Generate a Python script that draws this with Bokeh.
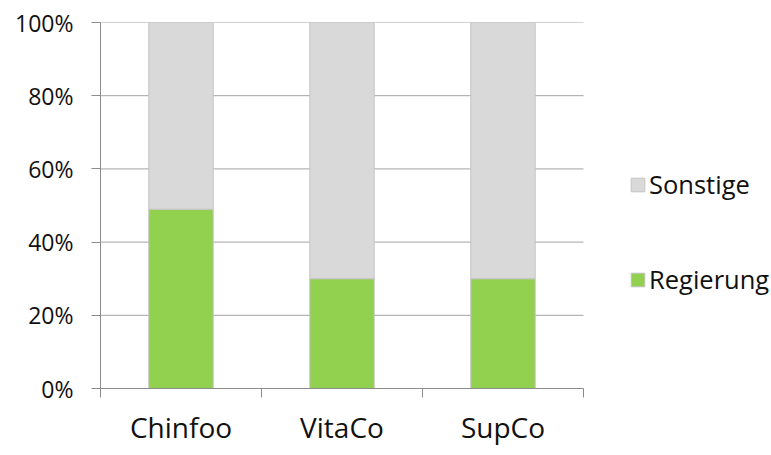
from bokeh.plotting import figure
from bokeh.models import ColumnDataSource, FixedTicker, Legend, LegendItem, NumeralTickFormatter, Range1d
from bokeh.embed import file_html
from bokeh.resources import INLINE

companies = ["Chinfoo", "VitaCo", "SupCo"]
regierung = [0.49, 0.30, 0.30]
sonstige = [0.51, 0.70, 0.70]
y_ticks = [0, 0.2, 0.4, 0.6, 0.8, 1.0]

FONT = "Open Sans"
n = len(companies)
x_pos = [i + 0.5 for i in range(n)]
source = ColumnDataSource(dict(x=x_pos, Regierung=regierung, Sonstige=sonstige))

# frame spans from the y axis to the right edge so the legend can sit inside it;
# the category area occupies 483 of the 671 frame pixels
x_end = n * 671 / 483

p = figure(width=771, height=455, output_backend="svg", toolbar_location=None,
           x_range=Range1d(0, x_end), y_range=Range1d(0, 1),
           min_border_left=100, min_border_right=0, min_border_top=22, min_border_bottom=67)
p.outline_line_color = None
p.background_fill_color = "white"
p.border_fill_color = "white"

# horizontal grid lines limited to the category area
grid_src = ColumnDataSource(dict(y=y_ticks, x0=[0] * len(y_ticks), x1=[n] * len(y_ticks)))
p.segment(x0="x0", x1="x1", y0="y", y1="y", source=grid_src, line_color="#a3a3a3", line_width=1)

renderers = p.vbar_stack(["Regierung", "Sonstige"], x="x", width=0.4, source=source,
                         color=["#92d050", "#d9d9d9"], line_color="#c4c4c4", line_width=1)

# x axis
xa = p.xaxis[0]
xa.bounds = (0, n)
xa.ticker = FixedTicker(ticks=x_pos, minor_ticks=list(range(n + 1)))
xa.major_label_overrides = {x: c for x, c in zip(x_pos, companies)}
xa.major_tick_out = 0
xa.major_tick_in = 0
xa.minor_tick_out = 9
xa.minor_tick_in = 0
xa.minor_tick_line_color = "#8c8c8c"
xa.axis_line_color = "#8c8c8c"
xa.major_label_text_font = FONT
xa.major_label_text_font_size = "28px"
xa.major_label_text_color = "#111111"
xa.major_label_standoff = 10

# y axis
ya = p.yaxis[0]
ya.ticker = FixedTicker(ticks=y_ticks)
ya.formatter = NumeralTickFormatter(format="0%")
ya.major_tick_out = 9
ya.major_tick_in = 0
ya.minor_tick_line_color = None
ya.major_tick_line_color = "#8c8c8c"
ya.axis_line_color = "#8c8c8c"
ya.major_label_text_font = FONT
ya.major_label_text_font_size = "23px"
ya.major_label_text_color = "#111111"
ya.major_label_standoff = 18

p.xgrid.grid_line_color = None
p.ygrid.grid_line_color = None

legend = Legend(items=[LegendItem(label="Sonstige", renderers=[renderers[1]]),
                       LegendItem(label="Regierung", renderers=[renderers[0]])],
                location=(529, 92), orientation="vertical",
                glyph_width=17, glyph_height=17, label_standoff=3, spacing=61,
                label_text_font=FONT, label_text_font_size="25.5px", label_text_color="#111111",
                border_line_color=None, background_fill_alpha=0, padding=0, margin=0,
                label_height=17)
p.add_layout(legend, "center")

open("out.html", "w").write(file_html(p, INLINE))
